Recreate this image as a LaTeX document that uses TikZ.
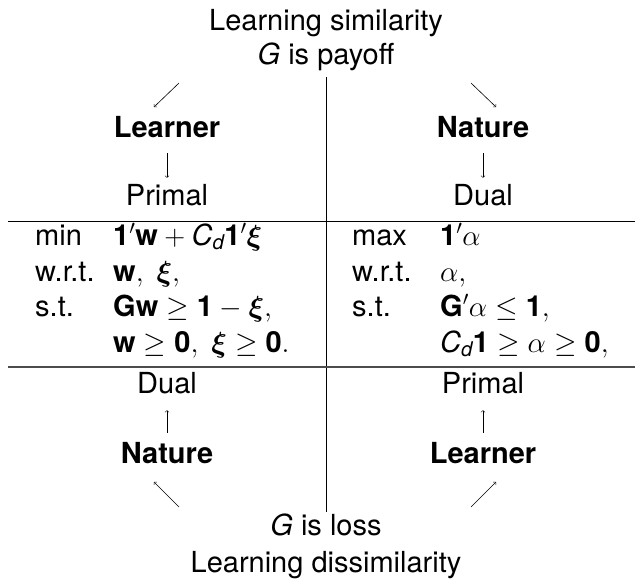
\RequirePackage{fix-cm}
\documentclass[tikz,border=0pt]{standalone}
\usepackage{amsmath}
\usepackage{fontspec}
\setmainfont{TeX Gyre Heros}

\newcommand{\bv}[1]{\mathbf{#1}}
\newcommand{\bsy}[1]{\boldsymbol{#1}}
\newcommand{\Cd}{\mathit{C}_{\mathit{d}}}

\begin{document}
\fontsize{29}{35}\selectfont
\begin{tikzpicture}[x=1pt,y=-1pt,
  txt/.style={inner sep=0pt,text height=20pt,text depth=6pt,anchor=base},
  lbl/.style={txt,anchor=base west},
  who/.style={txt,font=\bfseries},
  arr/.style={->,line width=0.6pt}]
  \useasboundingbox (0,0) rectangle (635,579);

  % frame of the table
  \draw[line width=0.8pt] (326,77) -- (326,512);
  \draw[line width=0.8pt] (8,221) -- (635,221);
  \draw[line width=1.4pt,black!70] (8,367) -- (635,367);

  % top part
  \node[txt] (simil) at (326,30) {Learning similarity};
  \node[txt] (payoff) at (326,64) {$\mathit{G}$ is payoff};
  \node[who] (learnerT) at (167,137) {Learner};
  \node[who] (natureT) at (483,137) {Nature};
  \node[txt] (primalT) at (167,205) {Primal};
  \node[txt] (dualT) at (483,205) {Dual};

  % primal program
  \node[lbl] (pmin) at (35,245) {min};
  \node[lbl] (pwrt) at (35,281) {w.r.t.};
  \node[lbl] (pst) at (35,316) {s.t.};
  \node[lbl] (pobj) at (113,245) {$\bv{1}'\bv{w}+\Cd\bv{1}'\bsy{\xi}$};
  \node[lbl] (pvar) at (113,281) {$\bv{w},\ \bsy{\xi},$};
  \node[lbl] (pc1) at (113,316) {$\bv{G}\bv{w}\geq\bv{1}-\bsy{\xi},$};
  \node[lbl] (pc2) at (113,352) {$\bv{w}\geq\bv{0},\ \bsy{\xi}\geq\bv{0}.$};

  % dual program
  \node[lbl] (dmax) at (352,245) {max};
  \node[lbl] (dwrt) at (352,281) {w.r.t.};
  \node[lbl] (dst) at (352,316) {s.t.};
  \node[lbl] (dobj) at (440,245) {$\bv{1}'\alpha$};
  \node[lbl] (dvar) at (440,281) {$\alpha,$};
  \node[lbl] (dc1) at (440,316) {$\bv{G}'\alpha\leq\bv{1},$};
  \node[lbl] (dc2) at (440,352) {$\Cd\bv{1}\geq\alpha\geq\bv{0},$};

  % bottom part
  \node[txt] (dualB) at (167,393) {Dual};
  \node[txt] (primalB) at (483,393) {Primal};
  \node[who] (natureB) at (167,463) {Nature};
  \node[who] (learnerB) at (483,463) {Learner};
  \node[txt] (loss) at (326,535) {$\mathit{G}$ is loss};
  \node[txt] (dissim) at (326,572) {Learning dissimilarity};

  % arrows
  \coordinate (swA) at (179,83);
  \coordinate (swB) at (154,107);
  \coordinate (seA) at (471,83);
  \coordinate (seB) at (496,107);
  \coordinate (nwA) at (179,507);
  \coordinate (nwB) at (154,482);
  \coordinate (neA) at (471,507);
  \coordinate (neB) at (496,482);
  \draw[arr] (swA) -- (swB);
  \draw[arr] (seA) -- (seB);
  \draw[arr] (nwA) -- (nwB);
  \draw[arr] (neA) -- (neB);
  \draw[arr,shorten <=10pt,shorten >=7pt] (learnerT) -- (primalT);
  \draw[arr,shorten <=10pt,shorten >=7pt] (natureT) -- (dualT);
  \draw[arr,shorten <=10pt,shorten >=11pt] (natureB) -- (dualB);
  \draw[arr,shorten <=10pt,shorten >=11pt] (learnerB) -- (primalB);
\end{tikzpicture}
\end{document}
